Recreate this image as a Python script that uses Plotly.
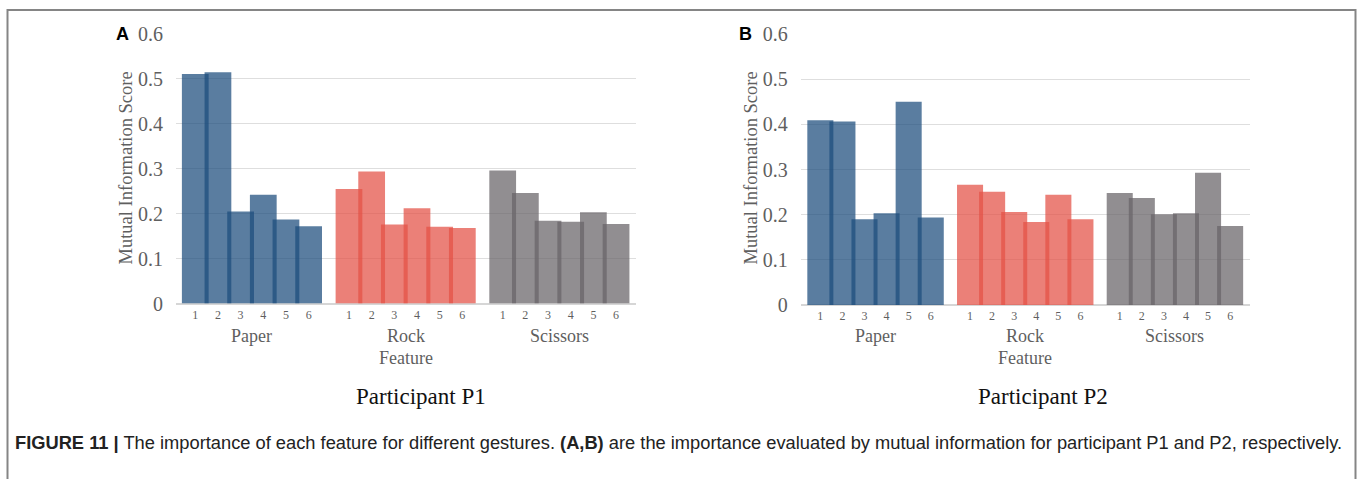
import plotly.graph_objects as go

W, H = 1358, 479

features = ["1", "2", "3", "4", "5", "6"]
gestures = ["Paper", "Rock", "Scissors"]

p1_paper = [0.511, 0.515, 0.205, 0.242, 0.187, 0.172]
p1_rock = [0.255, 0.294, 0.176, 0.212, 0.171, 0.168]
p1_scissors = [0.296, 0.246, 0.184, 0.182, 0.203, 0.177]

p2_paper = [0.409, 0.406, 0.190, 0.203, 0.450, 0.194]
p2_rock = [0.266, 0.251, 0.206, 0.184, 0.244, 0.190]
p2_scissors = [0.248, 0.237, 0.201, 0.203, 0.293, 0.175]

panels = ["A", "B"]
participants = ["Participant P1", "Participant P2"]
y_title = "Mutual Information Score"
x_title = "Feature"
caption_bold = "FIGURE 11 |"
caption_rest = (" The importance of each feature for different gestures. <b>(A,B)</b> are the importance "
                "evaluated by mutual information for participant P1 and P2, respectively.")

colors = ["rgba(29,77,125,0.73)", "rgba(227,81,70,0.73)", "rgba(104,100,104,0.73)"]

GROUP_STEP = 6.78
BAR_W = 1.18


def px_x(p):
    return p / W


def px_y(p):
    return 1 - p / H


fig = go.Figure()

data = [[p1_paper, p1_rock, p1_scissors], [p2_paper, p2_rock, p2_scissors]]
axes = [("x", "y"), ("x2", "y2")]
for pi, (groups, (xa, ya)) in enumerate(zip(data, axes)):
    for gi, vals in enumerate(groups):
        xs = [gi * GROUP_STEP + i for i in range(len(features))]
        fig.add_trace(go.Bar(
            x=xs, y=vals, width=BAR_W, xaxis=xa, yaxis=ya,
            marker=dict(color=colors[gi], line=dict(width=0)),
            showlegend=False, hoverinfo="y",
        ))

tickvals = [gi * GROUP_STEP + i for gi in range(len(gestures)) for i in range(len(features))]
ticktext = [f for _ in gestures for f in features]

grey = "#5f5f5f"
serif = "Liberation Serif, Times New Roman, serif"

domains = [
    dict(x=[px_x(176), px_x(636)], y=[px_y(303.5), px_y(34)], xr=[-0.85, 19.44]),
    dict(x=[px_x(800.7), px_x(1250)], y=[px_y(305), px_y(34)], xr=[-0.89, 19.46]),
]

for k, d in enumerate(domains):
    sfx = "" if k == 0 else "2"
    fig.update_layout(**{
        f"xaxis{sfx}": dict(
            domain=d["x"], range=d["xr"], anchor=f"y{sfx}", automargin=False,
            tickvals=tickvals, ticktext=ticktext, showgrid=False, zeroline=False,
            showline=False, ticks="", tickfont=dict(family=serif, size=12, color=grey),
            ticklabelstandoff=2,
        ),
        f"yaxis{sfx}": dict(
            domain=d["y"], range=[0, 0.6], anchor=f"x{sfx}", dtick=0.1, automargin=False,
            showgrid=True, gridcolor="#dedede", gridwidth=1.3,
            zeroline=True, zerolinecolor="#d6d6d6", zerolinewidth=1.6,
            showline=False, ticks="", tickfont=dict(family=serif, size=20, color=grey),
            ticklabelstandoff=12,
        ),
    })

annotations = []
panel_letter_x = [122, 745]
ytitle_x = [125, 750]
part_x = [421, 1043]
for k, d in enumerate(domains):
    xref = "x" if k == 0 else "x2"
    annotations.append(dict(
        text=y_title, textangle=-90, xref="paper", yref="paper",
        x=px_x(ytitle_x[k]), y=px_y(168.5), showarrow=False,
        font=dict(family=serif, size=18.5, color=grey), xanchor="center", yanchor="middle",
    ))
    for gi, g in enumerate(gestures):
        annotations.append(dict(
            text=g, xref=xref, yref="paper", x=gi * GROUP_STEP + 2.5, y=px_y(336),
            showarrow=False, font=dict(family=serif, size=18, color=grey),
            xanchor="center", yanchor="middle",
        ))
    annotations.append(dict(
        text=x_title, xref=xref, yref="paper", x=GROUP_STEP + 2.5, y=px_y(358),
        showarrow=False, font=dict(family=serif, size=18, color=grey),
        xanchor="center", yanchor="middle",
    ))
    annotations.append(dict(
        text=participants[k], xref="paper", yref="paper", x=px_x(part_x[k]), y=px_y(396),
        showarrow=False, font=dict(family=serif, size=23, color="#111111"),
        xanchor="center", yanchor="middle",
    ))
    annotations.append(dict(
        text=f"<b>{panels[k]}</b>", xref="paper", yref="paper", x=px_x(panel_letter_x[k]), y=px_y(34),
        showarrow=False, font=dict(family="Liberation Sans, Arial, sans-serif", size=18, color="#000000"),
        xanchor="center", yanchor="middle",
    ))

annotations.append(dict(
    text=f"<b>{caption_bold}</b>{caption_rest}", xref="paper", yref="paper",
    x=px_x(13), y=px_y(442), showarrow=False, xanchor="left", yanchor="middle",
    font=dict(family="Liberation Sans, Arial, sans-serif", size=18.3, color="#222222"),
))

shapes = [dict(
    type="path", xref="paper", yref="paper",
    path=f"M {px_x(7.5)} {px_y(479)} L {px_x(7.5)} {px_y(10)} L {px_x(1355.5)} {px_y(10)} L {px_x(1355.5)} {px_y(479)}",
    line=dict(color="#858585", width=2),
)]

fig.update_layout(
    width=W, height=H, autosize=False,
    margin=dict(l=0, r=0, t=0, b=0, pad=0, autoexpand=False),
    paper_bgcolor="white", plot_bgcolor="white",
    barmode="overlay", annotations=annotations, shapes=shapes,
)

post = """
document.documentElement.style.margin='0';
document.body.style.margin='0';
"""

fig.write_html("out.html", config={"displayModeBar": False}, post_script=post)
